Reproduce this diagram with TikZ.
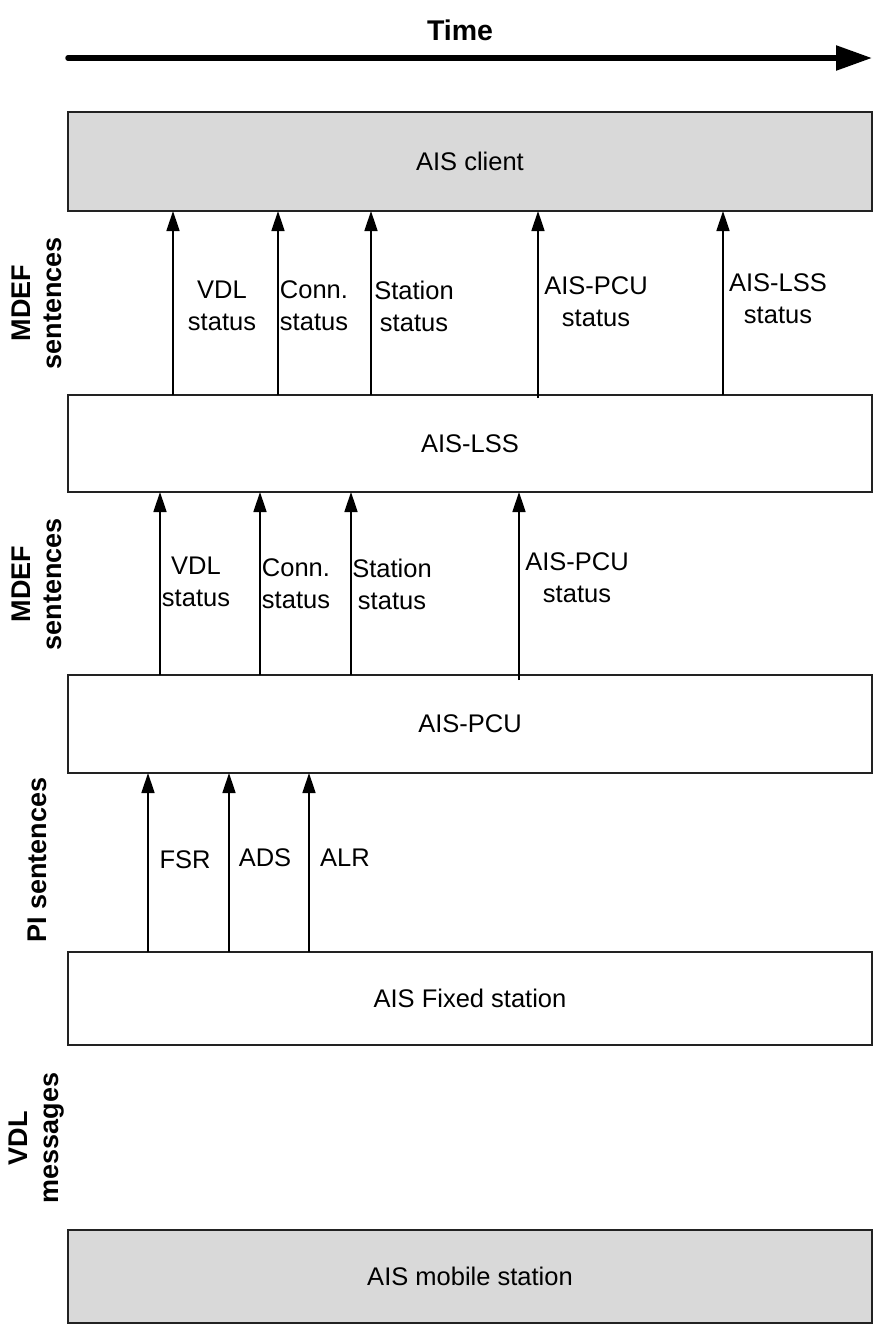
\documentclass[tikz,border=0pt]{standalone}
\usepackage{fontspec}
\setmainfont{Liberation Sans}
\usetikzlibrary{arrows.meta}
\definecolor{boxgray}{HTML}{D9D9D9}
\definecolor{linegray}{HTML}{222222}
\tikzset{
  layer/.style={draw=linegray, line width=1.5pt, minimum width=804pt, inner sep=0pt, outer sep=0pt,
    font=\fontsize{25.5}{32}\selectfont},
  shaded/.style={fill=boxgray},
  msg/.style={draw=black, line width=1.5pt, -{Triangle[length=20pt,width=13pt]}},
  lbl/.style={align=center, inner sep=0pt, font=\fontsize{25.5}{32}\selectfont},
  side/.style={align=center, inner sep=0pt, rotate=90, font=\fontsize{27}{31}\selectfont\bfseries},
  timearrow/.style={line width=5.5pt, line cap=round, -{Triangle[length=36pt,width=24pt,line cap=butt]}}
}
\begin{document}
\begin{tikzpicture}[x=1pt,y=-1pt]
\useasboundingbox (0,0) rectangle (873,1326);
% time axis
\node[inner sep=0pt, font=\fontsize{28.5}{32}\selectfont\bfseries] (time) at (460,30) {Time};
\coordinate (t0) at (68,58);
\coordinate (t1) at (872,58);
\draw[timearrow] (t0) -- (t1);
% layers
\node[layer, shaded, minimum height=99pt] (client) at (470,161.5) {AIS client};
\node[layer, minimum height=97pt] (lss) at (470,443.5) {AIS-LSS};
\node[layer, minimum height=98pt] (pcu) at (470,724) {AIS-PCU};
\node[layer, minimum height=93pt] (fixed) at (470,998.5) {AIS Fixed station};
\node[layer, shaded, minimum height=93pt] (mobile) at (470,1276.5) {AIS mobile station};
% side labels
\node[side] (s1) at (37,303) {MDEF\\sentences};
\node[side] (s2) at (37,584) {MDEF\\sentences};
\node[side] (s3) at (37,860) {PI sentences};
\node[side] (s4) at (37,1138) {VDL\\messages};
% LSS -> client
\draw[msg] ([xshift=105pt]lss.north west) -- ([xshift=105pt]client.south west);
\draw[msg] ([xshift=210pt]lss.north west) -- ([xshift=210pt]client.south west);
\draw[msg] ([xshift=303pt]lss.north west) -- ([xshift=303pt]client.south west);
\draw[msg] ([xshift=470pt,yshift=-3pt]lss.north west) -- ([xshift=470pt]client.south west);
\draw[msg] ([xshift=655pt]lss.north west) -- ([xshift=655pt]client.south west);
\node[lbl] (l1) at (222,306) {VDL\\status};
\node[lbl] (l2) at (314,306) {Conn.\\status};
\node[lbl] (l3) at (414,306) {Station\\status};
\node[lbl] (l4) at (596,302) {AIS-PCU\\status};
\node[lbl] (l5) at (778,299) {AIS-LSS\\status};
% PCU -> LSS
\draw[msg] ([xshift=92pt]pcu.north west) -- ([xshift=92pt]lss.south west);
\draw[msg] ([xshift=192pt]pcu.north west) -- ([xshift=192pt]lss.south west);
\draw[msg] ([xshift=283pt]pcu.north west) -- ([xshift=283pt]lss.south west);
\draw[msg] ([xshift=451pt,yshift=-5pt]pcu.north west) -- ([xshift=451pt]lss.south west);
\node[lbl] (m1) at (196,582) {VDL\\status};
\node[lbl] (m2) at (296,584) {Conn.\\status};
\node[lbl] (m3) at (392,584) {Station\\status};
\node[lbl] (m4) at (577,578) {AIS-PCU\\status};
% Fixed -> PCU
\draw[msg] ([xshift=80pt]fixed.north west) -- ([xshift=80pt]pcu.south west);
\draw[msg] ([xshift=161pt]fixed.north west) -- ([xshift=161pt]pcu.south west);
\draw[msg] ([xshift=241pt]fixed.north west) -- ([xshift=241pt]pcu.south west);
\node[lbl] (b1) at (185,860) {FSR};
\node[lbl] (b2) at (265,858) {ADS};
\node[lbl] (b3) at (345,858) {ALR};
\end{tikzpicture}
\end{document}
